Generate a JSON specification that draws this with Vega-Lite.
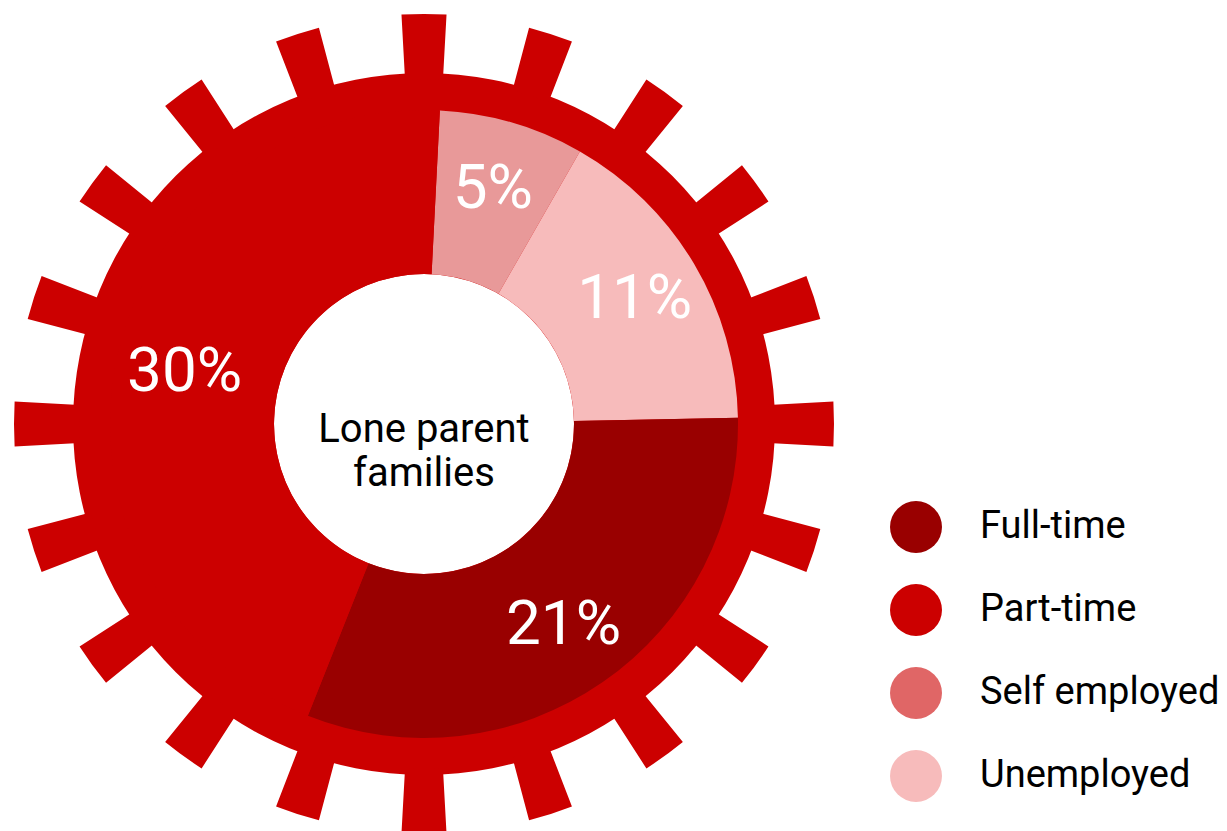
{
  "$schema": "https://vega.github.io/schema/vega-lite/v6.json",
  "width": 848,
  "height": 848,
  "padding": 0,
  "autosize": {"type": "pad"},
  "background": "white",
  "config": {"view": {"stroke": null}},
  "datasets": {
    "slices": [
      {"status": "Self employed", "pct": 5, "label": "5%", "ord": 1},
      {"status": "Unemployed", "pct": 11, "label": "11%", "ord": 2},
      {"status": "Full-time", "pct": 21, "label": "21%", "ord": 3},
      {"status": "Part-time", "pct": 30, "label": "30%", "ord": 4}
    ],
    "teeth": [
      {"n": 1, "part": "tooth", "span": 6.3}, {"n": 2, "part": "gap", "span": 11.7},
      {"n": 3, "part": "tooth", "span": 6.3}, {"n": 4, "part": "gap", "span": 11.7},
      {"n": 5, "part": "tooth", "span": 6.3}, {"n": 6, "part": "gap", "span": 11.7},
      {"n": 7, "part": "tooth", "span": 6.3}, {"n": 8, "part": "gap", "span": 11.7},
      {"n": 9, "part": "tooth", "span": 6.3}, {"n": 10, "part": "gap", "span": 11.7},
      {"n": 11, "part": "tooth", "span": 6.3}, {"n": 12, "part": "gap", "span": 11.7},
      {"n": 13, "part": "tooth", "span": 6.3}, {"n": 14, "part": "gap", "span": 11.7},
      {"n": 15, "part": "tooth", "span": 6.3}, {"n": 16, "part": "gap", "span": 11.7},
      {"n": 17, "part": "tooth", "span": 6.3}, {"n": 18, "part": "gap", "span": 11.7},
      {"n": 19, "part": "tooth", "span": 6.3}, {"n": 20, "part": "gap", "span": 11.7},
      {"n": 21, "part": "tooth", "span": 6.3}, {"n": 22, "part": "gap", "span": 11.7},
      {"n": 23, "part": "tooth", "span": 6.3}, {"n": 24, "part": "gap", "span": 11.7},
      {"n": 25, "part": "tooth", "span": 6.3}, {"n": 26, "part": "gap", "span": 11.7},
      {"n": 27, "part": "tooth", "span": 6.3}, {"n": 28, "part": "gap", "span": 11.7},
      {"n": 29, "part": "tooth", "span": 6.3}, {"n": 30, "part": "gap", "span": 11.7},
      {"n": 31, "part": "tooth", "span": 6.3}, {"n": 32, "part": "gap", "span": 11.7},
      {"n": 33, "part": "tooth", "span": 6.3}, {"n": 34, "part": "gap", "span": 11.7},
      {"n": 35, "part": "tooth", "span": 6.3}, {"n": 36, "part": "gap", "span": 11.7},
      {"n": 37, "part": "tooth", "span": 6.3}, {"n": 38, "part": "gap", "span": 11.7},
      {"n": 39, "part": "tooth", "span": 6.3}, {"n": 40, "part": "gap", "span": 11.7}
    ],
    "center": [{"title": "Lone parent families"}]
  },
  "layer": [
    {
      "data": {"name": "center"},
      "mark": {"type": "arc", "theta": 0, "theta2": 6.2832, "radius": 351, "radius2": 150, "color": "#CC0000"},
      "encoding": {}
    },
    {
      "data": {"name": "teeth"},
      "mark": {"type": "arc", "radius": 410, "radius2": 345, "color": "#CC0000"},
      "encoding": {
        "theta": {"field": "span", "type": "quantitative", "stack": true,
                  "scale": {"domain": [0, 360], "range": [-0.05498, 6.22821]}},
        "order": {"field": "n", "type": "quantitative"},
        "fillOpacity": {"condition": {"test": "datum.part === 'gap'", "value": 0}, "value": 1}
      }
    },
    {
      "data": {"name": "slices"},
      "mark": {"type": "arc", "radius": 314, "radius2": 150},
      "encoding": {
        "theta": {"field": "pct", "type": "quantitative", "stack": true,
                  "scale": {"domain": [0, 67], "range": [0.0506, 6.3338]}},
        "order": {"field": "ord", "type": "quantitative"},
        "color": {
          "condition": {"test": "datum.status === 'Self employed'", "value": "#E89999"},
          "field": "status", "type": "nominal",
          "scale": {"domain": ["Full-time", "Part-time", "Self employed", "Unemployed"],
                    "range": ["#990000", "#CC0000", "#E06666", "#F7BBBB"]},
          "legend": {"orient": "none", "legendX": 890, "legendY": 501, "title": null,
                     "symbolType": "circle", "symbolSize": 2700, "symbolStrokeWidth": 0,
                     "symbolOpacity": 1,
                     "labelFontSize": 38, "labelColor": "black", "labelOffset": 38,
                     "labelFont": "Roboto",
                     "rowPadding": 31, "labelLimit": 400}
        }
      }
    },
    {
      "data": {"name": "slices"},
      "mark": {"type": "text", "radius": 245, "color": "white", "fontSize": 62,
               "font": "Roboto", "align": "center", "baseline": "middle"},
      "encoding": {
        "theta": {"field": "pct", "type": "quantitative", "stack": true,
                  "scale": {"domain": [0, 67], "range": [0.0506, 6.3338]}},
        "order": {"field": "ord", "type": "quantitative"},
        "detail": {"field": "status", "type": "nominal"},
        "text": {"field": "label", "type": "nominal"}
      }
    },
    {
      "data": {"name": "center"},
      "mark": {"type": "text", "color": "black", "fontSize": 40, "lineHeight": 44, "dy": 6,
               "font": "Roboto", "align": "center", "baseline": "middle"},
      "encoding": {
        "text": {"value": ["Lone parent", "families"]}
      }
    }
  ],
  "resolve": {"scale": {"theta": "independent"}}
}
